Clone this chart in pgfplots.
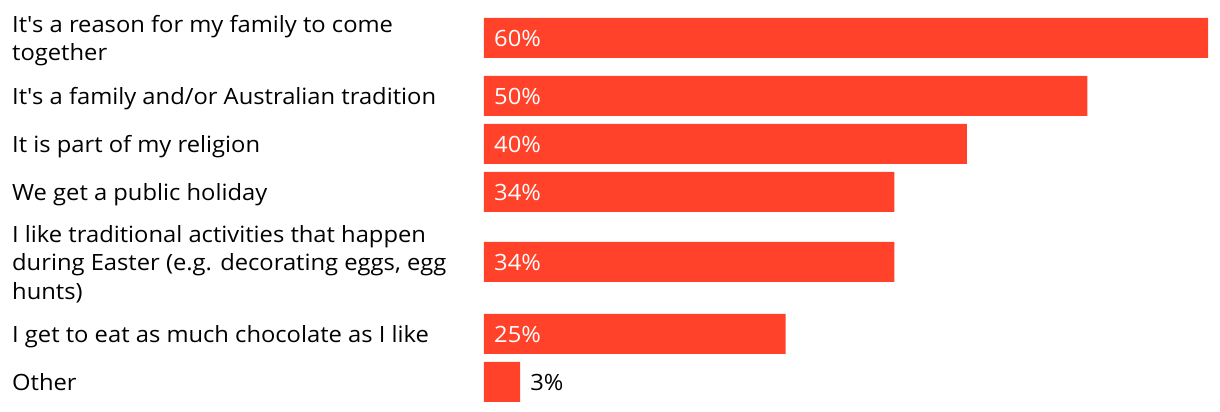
\documentclass[border=0pt]{standalone}
\usepackage{pgfplots}
\pgfplotsset{compat=1.18}
\usepackage{fontspec}
\setmainfont[FakeStretch=1.06]{Open Sans}
\definecolor{barred}{HTML}{FF4229}
\newcommand\lblfont{\fontsize{22.4}{26.5}\selectfont}
\begin{document}
\begin{tikzpicture}
\begin{axis}[
    scale only axis, width=736pt, height=412pt,
    xmin=0, xmax=60.98, ymin=-412, ymax=0,
    axis line style={draw=none}, major tick length=0pt,
    xtick=\empty,
    ytick={-38,-96,-144,-192,-262,-334,-382},
    yticklabels={
      {It\textquotesingle s a reason for my family to come\\[2pt]together},
      {It\textquotesingle s a family and/or Australian tradition},
      {It is part of my religion},
      {We get a public holiday},
      {I like traditional activities that happen\\[2pt]during Easter (e.g. decorating eggs, egg\\[2pt]hunts)},
      {I get to eat as much chocolate as I like},
      {Other}},
    yticklabel style={anchor=west, align=left, inner sep=0pt, xshift=-472pt,
      text depth=0pt, font=\lblfont},
    clip=false,
  ]
  \addplot[xbar, bar width=40, fill=barred, draw=none] coordinates {
    (60,-38) (50,-96) (40,-144) (34,-192) (34,-262) (25,-334) (3,-382)};
  \addplot[draw=none, mark=none, nodes near coords, point meta=explicit symbolic,
    nodes near coords style={anchor=west, inner sep=0pt, xshift=10pt, white,
      text depth=0pt, font=\lblfont}]
    table[meta=lab] {
x y lab
0 -38 60\%
0 -96 50\%
0 -144 40\%
0 -192 34\%
0 -262 34\%
0 -334 25\%
};
  \addplot[draw=none, mark=none, nodes near coords, point meta=explicit symbolic,
    nodes near coords style={anchor=west, inner sep=0pt, xshift=10pt, black,
      text depth=0pt, font=\lblfont}]
    table[meta=lab] {
x y lab
3 -382 3\%
};
  \coordinate (sw) at (rel axis cs:0,0);
  \coordinate (ne) at (rel axis cs:1,1);
\end{axis}
\pgfresetboundingbox
\path ([xshift=-484pt]sw) rectangle (ne);
\end{tikzpicture}
\end{document}
